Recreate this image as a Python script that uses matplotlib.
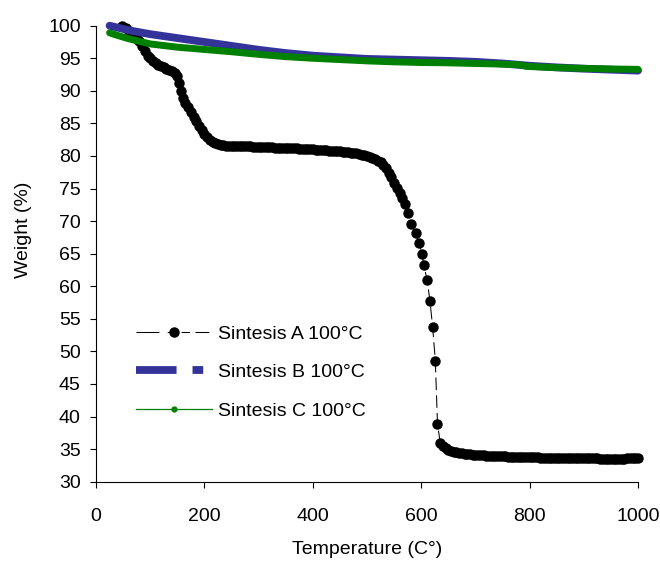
import numpy as np
import matplotlib
matplotlib.use("Agg")
import matplotlib.pyplot as plt
from matplotlib.lines import Line2D

plt.rcParams['font.family'] = ['Liberation Sans', 'DejaVu Sans']
plt.rcParams['font.size'] = 14

# Sintesis A 100°C
temp_a = [48, 55, 60, 65, 70, 75, 80, 85, 90, 95,
          100, 105, 110, 115, 120, 125, 130, 135, 140, 145,
          150, 153, 157, 161, 165, 170, 175, 180, 185, 190,
          195, 200, 205, 210, 215, 220, 225, 230, 235, 240,
          245, 250, 255, 260, 265, 270, 275, 280, 285, 290,
          295, 300, 305, 310, 315, 320, 325, 330, 335, 340,
          345, 350, 355, 360, 365, 370, 375, 380, 385, 390,
          395, 400, 405, 410, 415, 420, 425, 430, 435, 440,
          445, 450, 455, 460, 465, 470, 475, 480, 485, 490,
          495, 500, 505, 510, 515, 520, 525, 530, 535, 540,
          545, 550, 555, 560, 565, 570, 576, 582, 590, 596,
          601, 605, 611, 616, 621, 626, 630, 635, 640, 645,
          650, 655, 660, 665, 670, 675, 680, 685, 690, 695,
          700, 705, 710, 715, 720, 725, 730, 735, 740, 745,
          750, 755, 760, 765, 770, 775, 780, 785, 790, 795,
          800, 805, 810, 815, 820, 825, 830, 835, 840, 845,
          850, 855, 860, 865, 870, 875, 880, 885, 890, 895,
          900, 905, 910, 915, 920, 925, 930, 935, 940, 945,
          950, 955, 960, 965, 970, 975, 980, 985, 990, 995,
          1000]
weight_a = [100.0, 99.6, 99.2, 98.8, 98.4, 98.0, 97.6, 96.9, 96.1, 95.4,
            95.0, 94.6, 94.3, 94.0, 93.8, 93.6, 93.4, 93.2, 93.0, 92.7,
            92.3, 91.2, 89.9, 88.9, 88.2, 87.5, 86.8, 86.0, 85.3, 84.6,
            84.0, 83.4, 82.9, 82.5, 82.2, 82.0, 81.8, 81.7, 81.65, 81.6,
            81.6, 81.6, 81.58, 81.55, 81.53, 81.5, 81.5, 81.5, 81.47, 81.45,
            81.42, 81.4, 81.4, 81.4, 81.37, 81.35, 81.32, 81.3, 81.3, 81.3,
            81.27, 81.25, 81.22, 81.2, 81.17, 81.15, 81.12, 81.1, 81.07, 81.05,
            81.02, 81.0, 80.97, 80.95, 80.92, 80.9, 80.85, 80.8, 80.77, 80.75,
            80.72, 80.7, 80.65, 80.6, 80.55, 80.5, 80.45, 80.4, 80.3, 80.2,
            80.1, 80.0, 79.85, 79.7, 79.5, 79.3, 79.0, 78.6, 78.1, 77.4,
            76.7, 75.9, 75.1, 74.3, 73.6, 72.7, 71.2, 69.6, 68.1, 66.6,
            65.0, 63.2, 60.9, 57.8, 53.8, 48.6, 38.9, 36.0, 35.4, 35.1,
            34.9, 34.75, 34.6, 34.52, 34.45, 34.37, 34.3, 34.25, 34.2, 34.15,
            34.1, 34.07, 34.05, 34.02, 34.0, 33.97, 33.95, 33.92, 33.9, 33.9,
            33.9, 33.87, 33.85, 33.85, 33.85, 33.82, 33.8, 33.8, 33.8, 33.77,
            33.75, 33.75, 33.75, 33.72, 33.7, 33.7, 33.7, 33.7, 33.7, 33.7,
            33.7, 33.67, 33.65, 33.65, 33.65, 33.65, 33.65, 33.62, 33.6, 33.6,
            33.6, 33.6, 33.6, 33.6, 33.6, 33.6, 33.55, 33.55, 33.55, 33.55,
            33.55, 33.55, 33.55, 33.55, 33.55, 33.55, 33.6, 33.6, 33.6, 33.6,
            33.6]

# Sintesis B 100°C
temp_b = [25, 40, 60, 80, 100, 150, 200, 250, 300, 350, 400, 450, 500, 550,
          600, 650, 700, 750, 800, 850, 900, 950, 1000]
weight_b = [100.0, 99.7, 99.3, 99.0, 98.7, 98.1, 97.5, 96.9, 96.3, 95.8,
            95.4, 95.15, 94.9, 94.8, 94.7, 94.6, 94.45, 94.2, 93.85, 93.6,
            93.4, 93.25, 93.1]

# Sintesis C 100°C
temp_c = [25, 40, 60, 80, 100, 150, 200, 250, 300, 350, 400, 450, 500, 550,
          600, 650, 700, 750, 780, 795, 850, 900, 950, 1000]
weight_c = [98.9, 98.5, 98.0, 97.6, 97.2, 96.7, 96.35, 96.0, 95.6, 95.25,
            95.0, 94.8, 94.6, 94.45, 94.35, 94.3, 94.2, 94.1, 94.0, 93.75,
            93.55, 93.45, 93.35, 93.3]

labels = ['Sintesis A 100°C', 'Sintesis B 100°C', 'Sintesis C 100°C']
col_b = '#333399'
col_c = '#008000'

fig = plt.figure(figsize=(6.6, 5.61), dpi=100)
ax = fig.add_axes([0.1455, 0.1414, 0.8212, 0.8128])

ax.plot(temp_a, weight_a, color='black', lw=0.75, linestyle=(0, (12, 5)),
        marker='o', ms=6.5, mfc='black', mec='black', clip_on=False)
ax.plot(temp_b, weight_b, color=col_b, lw=5.6, solid_capstyle='round',
        clip_on=False)
ax.plot(temp_c, weight_c, color=col_c, lw=5.0, solid_capstyle='round',
        clip_on=False)

ax.set_xlim(0, 1000)
ax.set_ylim(30, 100)
ax.set_xticks(np.arange(0, 1001, 200))
ax.set_yticks(np.arange(30, 101, 5))
for s in ['top', 'right']:
    ax.spines[s].set_visible(False)
for s in ['left', 'bottom']:
    ax.spines[s].set_linewidth(0.8)
ax.tick_params(axis='both', direction='out', length=4, width=0.8, labelsize=14)
ax.tick_params(axis='y', pad=7)
ax.tick_params(axis='x', pad=15)

ax.set_xlabel('Temperature (C°)')
ax.set_ylabel('Weight (%)')
ax.xaxis.set_label_coords(0.5, -0.131)
ax.yaxis.set_label_coords(-0.118, 0.552)

# legend handles mimic the series line patterns
lw_a = 0.75
h_a = Line2D([], [], color='black', lw=lw_a, marker='o', ms=6.5,
             linestyle=(0, tuple(v / lw_a for v in (16.5, 6, 6, 4, 6, 4, 10, 10))))
lw_b = 5.6
h_b = Line2D([], [], color=col_b, lw=lw_b,
             linestyle=(0, tuple(v / lw_b for v in (29.2, 11.5, 7.7, 10))))
h_c = Line2D([], [], color=col_c, lw=0.9, marker='o', ms=3.5)
ax.legend([h_a, h_b, h_c], labels, frameon=False, loc='upper left',
          bbox_to_anchor=(0.042, 0.381), handlelength=3.9, handletextpad=0.3,
          labelspacing=1.06, fontsize=14)

fig.savefig('out.png', dpi=100)
